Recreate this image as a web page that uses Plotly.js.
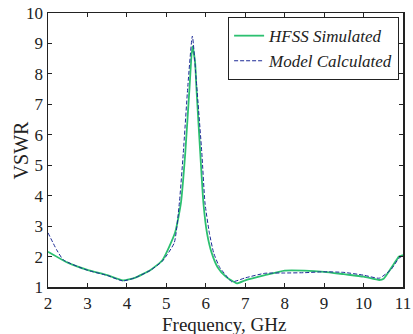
<!DOCTYPE html>
<html><head><meta charset="utf-8">
<script src="https://cdn.plot.ly/plotly-3.0.1.min.js"></script>
<style>body{margin:0;padding:0;background:#fff}</style>
</head><body>
<div id="chart" style="width:413px;height:334px"></div>
<script>
const hfssX = [2.0, 2.5, 3.0, 3.5, 3.9, 4.2, 4.6, 4.9, 5.22, 5.37, 5.48, 5.59, 5.66, 5.73, 5.76, 5.86, 5.94, 6.03, 6.15, 6.3, 6.5, 6.79, 7.0, 7.5, 8.0, 8.5, 9.0, 9.5, 10.0, 10.4, 10.51, 10.7, 10.9, 11.0];
const hfssY = [2.16, 1.8, 1.56, 1.39, 1.22, 1.3, 1.56, 1.88, 2.78, 3.76, 5.4, 7.6, 8.9, 8.37, 7.6, 5.4, 3.76, 2.78, 2.12, 1.65, 1.35, 1.12, 1.22, 1.39, 1.54, 1.54, 1.5, 1.42, 1.34, 1.23, 1.27, 1.62, 2.0, 2.05];
const modelX = [2.0, 2.22, 2.39, 3.0, 3.5, 3.9, 4.2, 4.6, 4.9, 5.2, 5.33, 5.43, 5.545, 5.66, 5.77, 5.9, 5.98, 6.09, 6.2, 6.35, 6.5, 6.66, 7.0, 7.5, 8.0, 8.5, 9.0, 9.5, 10.0, 10.4, 10.7, 10.9, 11.0];
const modelY = [2.78, 2.22, 1.89, 1.55, 1.38, 1.2, 1.3, 1.55, 1.85, 2.45, 3.76, 5.4, 7.6, 9.24, 7.6, 5.4, 3.76, 2.78, 2.12, 1.65, 1.4, 1.17, 1.3, 1.45, 1.46, 1.47, 1.5, 1.48, 1.39, 1.29, 1.58, 1.95, 2.02];
const xTicks = [2, 3, 4, 5, 6, 7, 8, 9, 10, 11];
const yTicks = [1, 2, 3, 4, 5, 6, 7, 8, 9, 10];
const names = ['HFSS Simulated', 'Model Calculated'];

const font = 'Liberation Serif, Times New Roman, serif';
const traces = [
  {x: hfssX, y: hfssY, name: names[0], mode: 'lines', line: {color: '#2cc070', width: 1.8, shape: 'spline', smoothing: 0.5}},
  {x: modelX, y: modelY, name: names[1], mode: 'lines', line: {color: '#1c2a96', width: 1, dash: '4px,2px', shape: 'spline', smoothing: 0.5}}
];
const axisCommon = {
  showline: true, linecolor: '#222', linewidth: 1.5, mirror: 'ticks',
  ticks: 'inside', ticklen: 4, tickcolor: '#222', tickwidth: 1,
  showgrid: false, zeroline: false,
  tickfont: {family: font, size: 17, color: '#222'}
};
const layout = {
  width: 413, height: 334,
  margin: {l: 48, r: 10, t: 13, b: 47},
  paper_bgcolor: '#fff', plot_bgcolor: '#fff',
  showlegend: true,
  legend: {x: 0.989, y: 0.985, xanchor: 'right', yanchor: 'top', bgcolor: '#fff', bordercolor: '#222', borderwidth: 1,
    font: {family: font, size: 17, color: '#222', style: 'italic'}, itemwidth: 30, tracegroupgap: 0},
  xaxis: Object.assign({}, axisCommon, {range: [2, 11], tickvals: xTicks, ticktext: xTicks.map(String)}),
  yaxis: Object.assign({}, axisCommon, {range: [1, 10], tickvals: yTicks, ticktext: yTicks.map(String)}),
  annotations: [
    {text: 'VSWR', xref: 'paper', yref: 'paper', x: -0.075, y: 0.5, xanchor: 'center', yanchor: 'middle',
      textangle: -90, showarrow: false, font: {family: font, size: 20, color: '#222'}},
    {text: 'Frequency, GHz', xref: 'paper', yref: 'paper', x: 0.497, y: -0.137, xanchor: 'center', yanchor: 'middle',
      showarrow: false, font: {family: font, size: 19, color: '#222'}}
  ]
};
Plotly.newPlot('chart', traces, layout, {displayModeBar: false, staticPlot: true});
</script>
</body></html>
